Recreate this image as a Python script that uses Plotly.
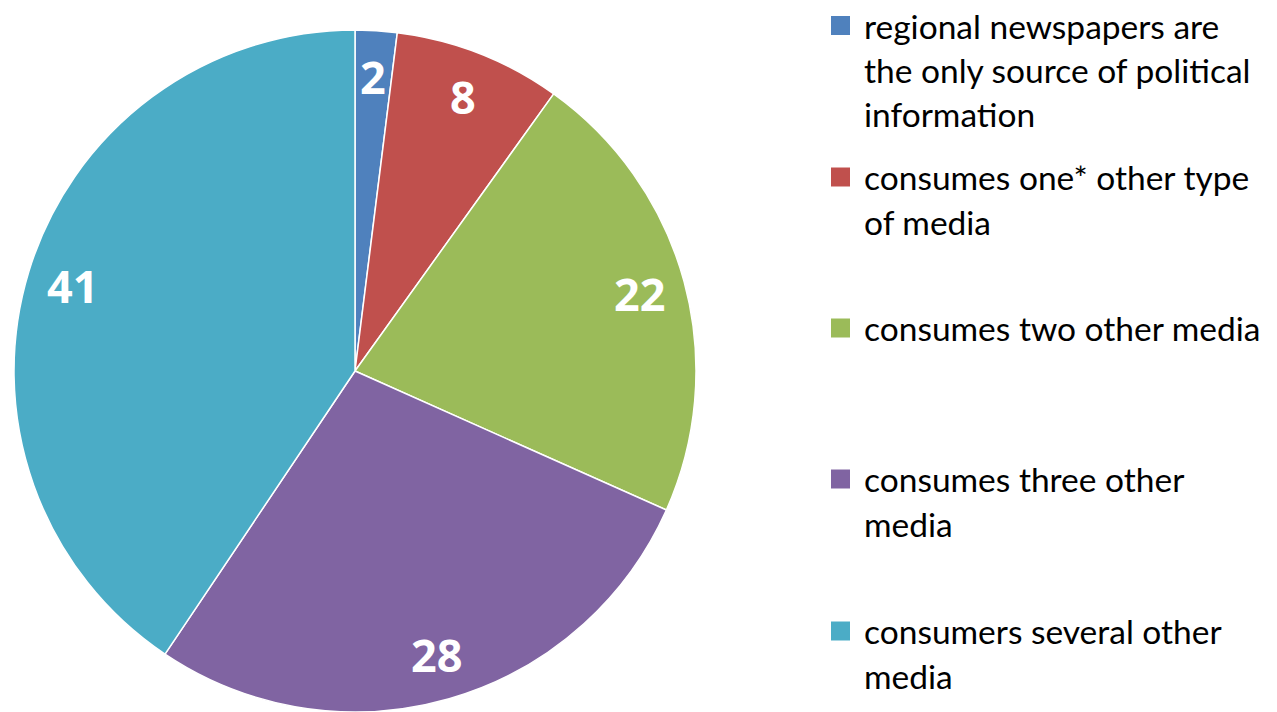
import math
import plotly.graph_objects as go

categories = [
    "regional newspapers are<br>the only source of political<br>information",
    "consumes one* other type<br>of media",
    "consumes two other media",
    "consumes three other<br>media",
    "consumers several other<br>media",
]
values = [2, 8, 22, 28, 41]
colors = ["#4F81BD", "#C0504D", "#9BBB59", "#8064A2", "#4BACC6"]

W, H = 1277, 712
OFF = 8  # page body margin offset
cx, cy, R = 355 - OFF, 371 - OFF, 341  # pixel centre / radius of pie in figure coords

fig = go.Figure()
fig.add_trace(go.Pie(
    labels=[c.replace("<br>", " ") for c in categories],
    values=values,
    marker=dict(colors=colors, line=dict(color="white", width=1.5)),
    sort=False,
    direction="clockwise",
    rotation=0,
    textinfo="none",
    hoverinfo="label+value",
    showlegend=False,
    domain=dict(x=[(cx - R) / W, (cx + R) / W], y=[1 - (cy + R) / H, 1 - (cy - R) / H]),
))

annotations = []
shapes = []
# value labels inside slices
total = sum(values)
cum = 0
for v in values:
    mid = (cum + v / 2) / total * 2 * math.pi
    cum += v
    r = 0.865 * R
    px = cx + r * math.sin(mid)
    py = cy - r * math.cos(mid)
    annotations.append(dict(
        x=px / W, y=1 - py / H, xref="paper", yref="paper",
        text=f"<b>{v}</b>", showarrow=False, xanchor="center", yanchor="middle",
        font=dict(family="Open Sans", size=45, color="white"),
    ))

# custom legend
legend_y = [25.5, 177, 328, 479, 631]
line_gap = 44.5
sq = 19
sx = 831 - OFF
tx = 862 - OFF
for cat, col, ly in zip(categories, colors, legend_y):
    ly = ly - OFF
    shapes.append(dict(
        type="rect", xref="paper", yref="paper",
        x0=sx / W, x1=(sx + sq) / W, y0=1 - (ly - sq / 2) / H, y1=1 - (ly + sq / 2) / H,
        fillcolor=col, line=dict(width=0),
    ))
    for i, line in enumerate(cat.split("<br>")):
        annotations.append(dict(
            x=tx / W, y=1 - (ly + i * line_gap) / H, xref="paper", yref="paper",
            text=line, showarrow=False, xanchor="left", yanchor="middle",
            font=dict(family="Lato", size=33.5, color="black"),
        ))

fig.update_layout(
    width=W, height=H,
    margin=dict(l=0, r=0, t=0, b=0),
    paper_bgcolor="white", plot_bgcolor="white",
    annotations=annotations, shapes=shapes,
)
fig.write_html("out.html")
